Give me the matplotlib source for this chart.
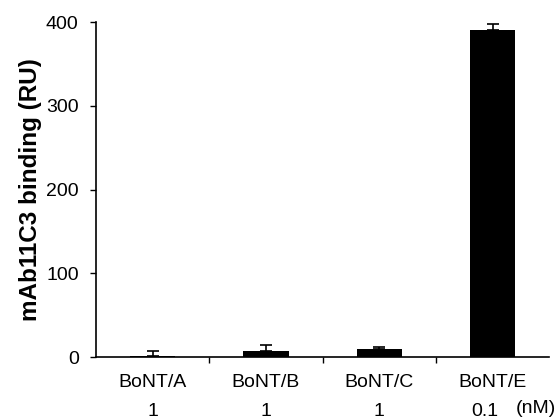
import numpy as np
import matplotlib
matplotlib.use("Agg")
import matplotlib.pyplot as plt

toxins = ["BoNT/A", "BoNT/B", "BoNT/C", "BoNT/E"]
conc = ["1", "1", "1", "0.1"]
binding = [1, 7, 9.5, 390]
err = [6, 7, 2.5, 8]

plt.rcParams["font.family"] = ["Liberation Sans", "DejaVu Sans"]

fig = plt.figure(figsize=(5.56, 4.2), dpi=100)
ax = fig.add_axes([0.1727, 0.15, 0.815, 0.7976])

x = np.arange(len(toxins))
ax.bar(x, binding, width=0.4, color="black")
ax.errorbar(x, binding, yerr=[np.zeros(len(err)), err], fmt="none",
            ecolor="black", elinewidth=1.2, capsize=4, capthick=1.2)

ax.set_xlim(-0.5, 3.5)
ax.set_ylim(0, 400)
ax.set_yticks([0, 100, 200, 300, 400])
ax.tick_params(axis="y", labelsize=14, direction="out", length=4.5, width=1, pad=8)

ax.set_xticks([0.5, 1.5, 2.5])
ax.set_xticklabels([])
ax.tick_params(axis="x", direction="out", length=4.5, width=1)
for i, t in enumerate(toxins):
    ax.text(i, -30, t, ha="center", va="center", fontsize=14)
for i, c in enumerate(conc[:-1]):
    ax.text(i, -65, c, ha="center", va="center", fontsize=14)
ax.text(2.93, -65, conc[-1], ha="center", va="center", fontsize=14)
ax.text(3.38, -61, "(nM)", ha="center", va="center", fontsize=14)

for s in ["top", "right"]:
    ax.spines[s].set_visible(False)
for s in ["left", "bottom"]:
    ax.spines[s].set_linewidth(1.2)

ax.set_ylabel("mAb11C3 binding (RU)", fontsize=17.5, fontweight="bold", labelpad=3)

fig.savefig("out.png", dpi=100)
